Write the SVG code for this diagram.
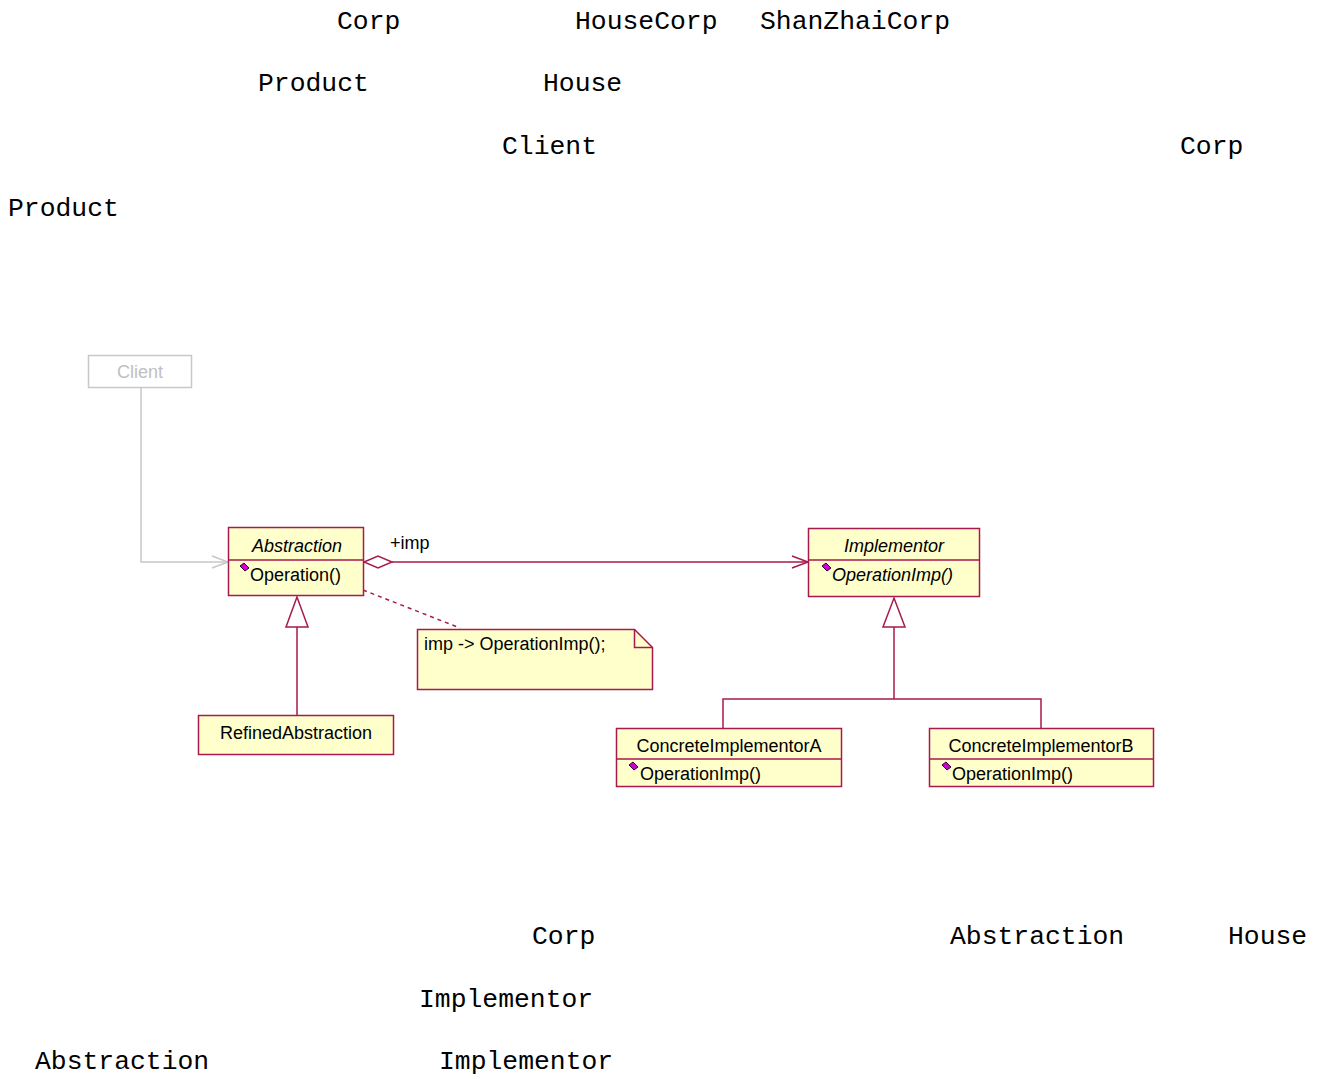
<svg xmlns="http://www.w3.org/2000/svg" width="1326" height="1079" viewBox="0 0 1326 1079">
<defs>
<style>
.mono{font-family:"Liberation Mono","Courier New",monospace;font-size:26.4px;fill:#000}
.box{fill:#ffffcc;stroke:#a8194d;stroke-width:1.5}
.lbl{font-family:"Liberation Sans",Arial,sans-serif;font-size:18px;fill:#000}
.it{font-style:italic}
.ln{fill:none;stroke:#a8194d;stroke-width:1.5}
</style>
<g id="icon">
<path d="M0,-1 L4,-4 L9,1 L5,4 Z" fill="#d000d0" stroke="#300030" stroke-width="1"/>
</g>
</defs>
<rect width="1326" height="1079" fill="#fff"/>
<g id="labels">
<text class="mono" x="337" y="29">Corp</text>
<text class="mono" x="575" y="29">HouseCorp</text>
<text class="mono" x="760" y="29">ShanZhaiCorp</text>
<text class="mono" x="258" y="91">Product</text>
<text class="mono" x="543" y="91">House</text>
<text class="mono" x="502" y="154">Client</text>
<text class="mono" x="1180" y="154">Corp</text>
<text class="mono" x="8" y="216">Product</text>
<text class="mono" x="532" y="944">Corp</text>
<text class="mono" x="950" y="944">Abstraction</text>
<text class="mono" x="1228" y="944">House</text>
<text class="mono" x="419" y="1007">Implementor</text>
<text class="mono" x="35" y="1069">Abstraction</text>
<text class="mono" x="439" y="1069">Implementor</text>
</g>
<g id="connectors">
<polyline points="141,388 141,562 228,562" fill="none" stroke="#c8c8c8" stroke-width="1.5"/>
<polyline points="212,556 228,562 212,568" fill="none" stroke="#c8c8c8" stroke-width="1.5"/>
<path class="ln" d="M364,562 L378,556 L392,562 L378,568 Z"/>
<line class="ln" x1="392" y1="562" x2="808" y2="562"/>
<polyline class="ln" points="792,556 808,562 792,568"/>
<text class="lbl" x="390" y="549">+imp</text>
<line class="ln" x1="363" y1="590" x2="460" y2="628" stroke-dasharray="4,4"/>
<path class="ln" d="M297,597 L308,627 L286,627 Z"/>
<line class="ln" x1="297" y1="627" x2="297" y2="715"/>
<path class="ln" d="M894,598 L905,627 L883,627 Z"/>
<line class="ln" x1="894" y1="627" x2="894" y2="699"/>
<polyline class="ln" points="723,728 723,699 1041,699 1041,728"/>
</g>
<g id="client">
<rect x="88.5" y="355.5" width="103" height="32" fill="#fff" stroke="#c8c8c8" stroke-width="1.5"/>
<text class="lbl" x="140" y="378" text-anchor="middle" style="fill:#c0c0c0">Client</text>
</g>
<g id="abstraction">
<rect class="box" x="228.5" y="527.5" width="135" height="68"/>
<line class="ln" x1="228.5" y1="560" x2="363.5" y2="560"/>
<text class="lbl it" x="297" y="552" text-anchor="middle">Abstraction</text>
<use href="#icon" x="240" y="567"/>
<text class="lbl" x="250" y="581">Operation()</text>
</g>
<g id="implementor">
<rect class="box" x="808.5" y="528.5" width="171" height="68"/>
<line class="ln" x1="808.5" y1="560" x2="979.5" y2="560"/>
<text class="lbl it" x="894" y="552" text-anchor="middle">Implementor</text>
<use href="#icon" x="822" y="567"/>
<text class="lbl it" x="832" y="581">OperationImp()</text>
</g>
<g id="note">
<path class="box" d="M417.5,629.5 L634.5,629.5 L652.5,647.5 L652.5,689.5 L417.5,689.5 Z"/>
<polyline class="ln" points="634.5,629.5 634.5,647.5 652.5,647.5"/>
<text class="lbl" x="424" y="650">imp -&gt; OperationImp();</text>
</g>
<g id="refinedAbstraction">
<rect class="box" x="198.5" y="715.5" width="195" height="39"/>
<text class="lbl" x="296" y="739" text-anchor="middle">RefinedAbstraction</text>
</g>
<g id="concreteA">
<rect class="box" x="616.5" y="728.5" width="225" height="58"/>
<line class="ln" x1="616.5" y1="759" x2="841.5" y2="759"/>
<text class="lbl" x="729" y="752" text-anchor="middle">ConcreteImplementorA</text>
<use href="#icon" x="629" y="766"/>
<text class="lbl" x="640" y="780">OperationImp()</text>
</g>
<g id="concreteB">
<rect class="box" x="929.5" y="728.5" width="224" height="58"/>
<line class="ln" x1="929.5" y1="759" x2="1153.5" y2="759"/>
<text class="lbl" x="1041" y="752" text-anchor="middle">ConcreteImplementorB</text>
<use href="#icon" x="942" y="766"/>
<text class="lbl" x="952" y="780">OperationImp()</text>
</g>
</svg>
